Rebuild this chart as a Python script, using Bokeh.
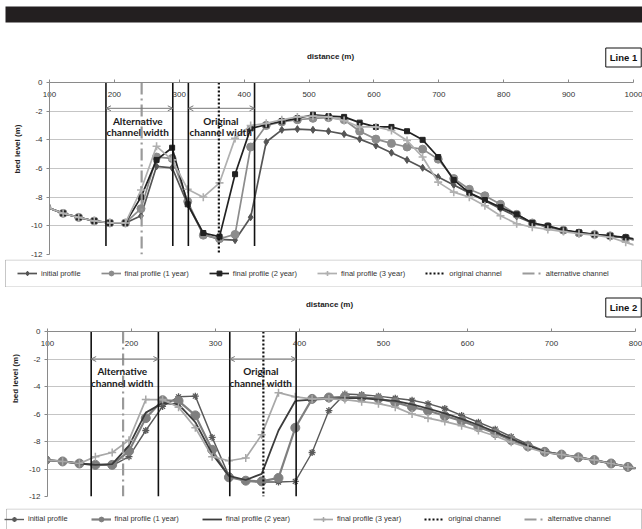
from math import pi
from bokeh.plotting import figure
from bokeh.layouts import column, row
from bokeh.models import (Range1d, LinearAxis, FixedTicker, Legend, LegendItem,
                          Label, Arrow, OpenHead, BoxAnnotation)
from bokeh.embed import file_html
from bokeh.resources import INLINE

# ---------------- Line 1 data ----------------
x1 = [96, 121, 145, 169, 193, 217, 241, 265, 289, 313, 337, 362, 386, 410, 434, 458,
      482, 506, 530, 554, 578, 603, 627, 651, 675, 699, 723, 747, 771, 795, 820, 844,
      868, 892, 916, 940, 964, 988, 1012]
init1 = [-8.7, -9.13, -9.41, -9.66, -9.8, -9.8, -9.3, -5.85, -5.95, -8.5, -10.6, -10.95,
         -11.0, -9.4, -4.15, -3.3, -3.25, -3.3, -3.4, -3.6, -3.95, -4.4, -4.9, -5.4,
         -5.95, -6.6, -7.15, -7.7, -8.25, -8.8, -9.35, -9.8, -10.1, -10.3, -10.5, -10.6,
         -10.7, -10.85, -11.1]
yr1_1 = [-8.7, -9.13, -9.41, -9.66, -9.8, -9.8, -8.8, -5.2, -5.3, -8.3, -10.65, -10.9,
         -10.6, -4.5, -3.0, -2.75, -2.6, -2.5, -2.45, -2.6, -3.4, -3.95, -4.25, -4.5,
         -4.65, -5.35, -6.7, -7.45, -7.9, -8.5, -9.2, -9.8, -10.05, -10.3, -10.5, -10.6,
         -10.7, -10.85, -11.1]
yr2_1 = [-8.7, -9.13, -9.41, -9.66, -9.8, -9.8, -8.0, -5.4, -4.55, -8.5, -10.5, -10.75,
         -6.4, -3.2, -2.95, -2.7, -2.5, -2.25, -2.35, -2.4, -2.8, -3.1, -3.1, -3.4,
         -4.0, -5.2, -6.8, -7.7, -8.2, -8.7, -9.2, -9.8, -10.0, -10.3, -10.45, -10.6,
         -10.7, -10.8, -11.0]
yr3_1 = [-8.7, -9.13, -9.41, -9.66, -9.8, -9.8, -7.5, -4.45, -5.4, -7.45, -8.0, -7.0,
         -3.9, -3.0, -2.85, -2.6, -2.4, -2.35, -2.4, -2.65, -3.1, -3.1, -3.35, -4.05,
         -5.2, -6.95, -7.65, -8.0, -8.6, -9.3, -9.85, -10.1, -10.25, -10.4, -10.55,
         -10.65, -10.8, -11.15, -11.5]
alt_edges1 = [187, 290]
orig_edges1 = [314, 416]
orig_channel1 = 361
alt_channel1 = 242

# ---------------- Line 2 data ----------------
x2 = [98, 118, 138, 157, 177, 197, 217, 237, 256, 276, 296, 316, 336, 355, 375, 395,
      415, 435, 454, 474, 494, 514, 534, 553, 573, 593, 613, 633, 652, 672, 692, 712,
      732, 751, 771, 791, 811]
init2 = [-9.35, -9.45, -9.6, -9.7, -9.75, -9.1, -7.2, -5.45, -4.75, -4.7, -7.7, -10.5,
         -10.9, -10.95, -10.95, -10.9, -8.8, -5.75, -4.55, -4.6, -4.7, -4.85, -5.0,
         -5.25, -5.6, -6.1, -6.6, -7.1, -7.65, -8.2, -8.7, -8.95, -9.15, -9.35, -9.6,
         -9.85, -10.05]
yr1_2 = [-9.35, -9.45, -9.6, -9.7, -9.7, -8.7, -6.3, -5.0, -5.05, -6.1, -8.6, -10.6,
         -10.85, -10.9, -10.65, -7.0, -4.9, -4.8, -4.75, -4.78, -4.88, -5.15, -5.5,
         -5.75, -6.15, -6.5, -6.95, -7.4, -7.9, -8.35, -8.75, -8.95, -9.15, -9.35, -9.6,
         -9.85, -10.05]
yr2_2 = [-9.35, -9.45, -9.6, -9.7, -9.65, -8.3, -5.9, -5.2, -5.3, -6.6, -8.9, -10.5,
         -10.8, -10.35, -7.2, -5.05, -4.95, -4.9, -4.85, -4.85, -4.95, -5.05, -5.3,
         -5.6, -5.95, -6.35, -6.8, -7.3, -7.8, -8.3, -8.75, -8.95, -9.15, -9.35, -9.6,
         -9.85, -10.05]
yr3_2 = [-9.35, -9.45, -9.6, -9.1, -8.8, -7.9, -4.95, -4.95, -5.5, -7.0, -9.1, -9.4,
         -9.2, -7.5, -4.45, -4.75, -4.9, -4.9, -4.95, -5.1, -5.25, -5.5, -6.0, -6.3,
         -6.55, -6.85, -7.2, -7.6, -8.05, -8.45, -8.8, -8.95, -9.15, -9.35, -9.6, -9.85,
         -10.05]
alt_edges2 = [152, 232]
orig_edges2 = [317, 396]
orig_channel2 = 357
alt_channel2 = 190

x_ticks1 = [100, 200, 300, 400, 500, 600, 700, 800, 900, 1000]
x_ticks2 = [100, 200, 300, 400, 500, 600, 700, 800]
y_ticks = [0, -2, -4, -6, -8, -10, -12]
series_names = ["initial profile", "final profile (1 year)", "final profile (2 year)",
                "final profile (3 year)"]
channel_names = ["original channel", "alternative channel"]

FONT = "Liberation Sans"
LBL = "Lato"
NAN = float("nan")

ORIG_STYLE = dict(line_color="#111111", line_width=2.2, line_dash="2 2")
ALT_STYLE = dict(line_color="#9a9a9a", line_width=2.2, line_dash="12 4 2 4")


def deco_fig(w, h, top=0):
    f = figure(width=w, height=h, x_range=Range1d(0, w), y_range=Range1d(h - top, 0),
               x_axis_location=None, y_axis_location=None, toolbar_location=None,
               output_backend="svg", min_border=0, min_border_top=top)
    f.outline_line_color = None
    f.grid.visible = False
    f.background_fill_color = "white"
    f.border_fill_color = "white"
    return f


def title_fig(h, title_xy, box_text, box_xy):
    f = deco_fig(642, h)
    f.add_layout(Label(x=title_xy[0], y=title_xy[1], text="distance (m)",
                       text_align="center", text_baseline="middle", text_font=FONT,
                       text_font_style="bold", text_font_size="8px",
                       text_color="#222222"))
    f.add_layout(Label(x=box_xy[0], y=box_xy[1], text=box_text,
                       text_align="center", text_baseline="middle", text_font=FONT,
                       text_font_style="bold", text_font_size="9.5px",
                       text_color="#111111", border_line_color="#111111",
                       border_line_width=1, background_fill_color="white",
                       padding=4))
    return f


def ylabel_fig(w, h, xy):
    f = deco_fig(w, h)
    f.add_layout(Label(x=xy[0], y=xy[1], text="bed level (m)", angle=pi / 2,
                       text_align="center", text_baseline="middle", text_font=FONT,
                       text_font_style="bold", text_font_size="8px",
                       text_color="#222222"))
    return f


def legend_fig(h, top, box, margin, spacing, styles):
    f = deco_fig(642, h, top)
    left, btop, bbottom = box
    f.add_layout(BoxAnnotation(left=left, right=641, top=btop, bottom=bbottom,
                               fill_color="white", fill_alpha=1,
                               line_color="#444444", line_width=1))
    items = []
    for name, st in zip(series_names, styles):
        rs = [f.line(x=[NAN], y=[NAN], line_color=st["color"],
                     line_width=st.get("lw", 1.7))]
        if st.get("marker"):
            rs.append(f.scatter(x=[NAN], y=[NAN], marker=st["marker"],
                                fill_color=st["color"], line_color=st["color"],
                                line_width=st.get("mlw", 1)))
        items.append(LegendItem(label=name, renderers=rs))
    items.append(LegendItem(label=channel_names[0],
                            renderers=[f.line(x=[NAN], y=[NAN], **ORIG_STYLE)]))
    items.append(LegendItem(label=channel_names[1],
                            renderers=[f.line(x=[NAN], y=[NAN], **ALT_STYLE)]))
    leg = Legend(items=items, location="center_left", orientation="horizontal",
                 border_line_color=None, background_fill_alpha=0, padding=8,
                 margin=margin, spacing=spacing, glyph_width=20, glyph_height=12,
                 label_height=12, label_standoff=4, label_text_font=FONT,
                 label_text_font_size="7.5px", label_text_color="#333333")
    f.add_layout(leg)
    return f


def make_chart(width, height, borders, xmax, xticks, x, ys, styles, alt_edges,
               orig_edges, orig_ch, alt_ch, edge_bottom, arrow_y, alt_txt, orig_txt):
    left, right, top, bottom = borders
    p = figure(width=width, height=height, x_range=Range1d(100, xmax),
               y_range=Range1d(-12, 0), x_axis_location=None,
               toolbar_location=None, output_backend="svg",
               min_border_left=left, min_border_right=right,
               min_border_top=top, min_border_bottom=bottom)
    p.outline_line_color = None
    p.background_fill_color = "white"
    p.border_fill_color = "white"
    p.xgrid.visible = False
    p.ygrid.ticker = FixedTicker(ticks=y_ticks)
    p.ygrid.grid_line_color = "#8a8a8a"
    p.ygrid.grid_line_dash = "1 1"

    ya = p.yaxis[0]
    ya.ticker = FixedTicker(ticks=y_ticks)
    ya.major_label_overrides = {t: str(t) for t in y_ticks}
    ya.major_label_text_font = FONT
    ya.major_label_text_font_size = "8px"
    ya.major_label_text_color = "#333333"
    ya.axis_line_color = "#8a8a8a"
    ya.major_tick_line_color = "#8a8a8a"
    ya.major_tick_out = 3
    ya.major_tick_in = 0
    ya.minor_tick_line_color = None
    ya.major_label_standoff = 4

    xa = LinearAxis(ticker=FixedTicker(ticks=xticks), major_label_standoff=-17,
                    major_tick_out=3, major_tick_in=0, axis_line_color="#8a8a8a",
                    major_tick_line_color="#8a8a8a", minor_tick_line_color=None,
                    major_label_text_font=FONT, major_label_text_font_size="8px",
                    major_label_text_color="#333333")
    p.add_layout(xa, "above")

    for y, st in zip(ys, styles):
        p.line(x, y, line_color=st["color"], line_width=st.get("lw", 1.7))
        if st.get("marker"):
            p.scatter(x, y, marker=st["marker"], size=st["size"],
                      fill_color=st["color"], line_color=st["color"],
                      line_width=st.get("mlw", 1))

    edges = alt_edges + orig_edges
    p.segment(x0=edges, y0=[0] * len(edges), x1=edges, y1=[edge_bottom] * len(edges),
              line_color="#111111", line_width=1.6)
    p.line([orig_ch, orig_ch], [0, -12], **ORIG_STYLE)
    p.line([alt_ch, alt_ch], [0, -12], **ALT_STYLE)

    for a, b in (alt_edges, orig_edges):
        p.add_layout(Arrow(x_start=a, y_start=arrow_y, x_end=b, y_end=arrow_y,
                           line_color="#777777", line_width=1,
                           start=OpenHead(size=5, line_color="#777777", line_width=1),
                           end=OpenHead(size=5, line_color="#777777", line_width=1)))

    for (tx, ty1, ty2), t1 in ((alt_txt, "Alternative"), (orig_txt, "Original")):
        for ty, t in ((ty1, t1), (ty2, "channel width")):
            p.add_layout(Label(x=tx, y=ty, text=t, text_align="center",
                               text_baseline="middle", text_font=LBL,
                               text_font_style="bold", text_font_size="10px",
                               text_color="#1a1a1a"))
    return p


styles1 = [
    dict(color="#555555", marker="diamond", size=7),
    dict(color="#8c8c8c", marker="circle", size=8),
    dict(color="#222222", marker="square", size=5),
    dict(color="#b0b0b0", marker="cross", size=8, mlw=1.6),
]
styles2 = [
    dict(color="#5a5a5a", marker="asterisk", size=7, mlw=1.3, lw=1.4),
    dict(color="#7f7f7f", marker="circle", size=9, lw=2.2),
    dict(color="#3c3c3c", lw=1.8),
    dict(color="#a8a8a8", marker="cross", size=8, mlw=1.5),
]

# page 0-24
header = deco_fig(642, 24)
header.add_layout(BoxAnnotation(left=5, right=642, top=6, bottom=22,
                                fill_color="#231f20", fill_alpha=1, line_color=None))

# chart 1: title band 24-78, plot 78-259, legend 259-287
t1 = title_fig(54, (330, 32), "Line 1", (623, 33))
y1 = ylabel_fig(24, 181, (17, 70))
p1 = make_chart(618, 181, (25, 9, 4, 5), 1000, x_ticks1, x1,
                [init1, yr1_1, yr2_1, yr3_1], styles1, alt_edges1, orig_edges1,
                orig_channel1, alt_channel1, -11.4, -1.8,
                (236, -2.67, -3.48), (364, -2.67, -3.48))
l1 = legend_fig(28, 0, (5, 0.5, 27.5), 17, 20, styles1)

# chart 2: title band 287-327, plot 327-502, legend 502-529
t2 = title_fig(40, (329, 17), "Line 2", (623, 20))
y2 = ylabel_fig(24, 175, (15, 50))
p2 = make_chart(618, 175, (23, 7, 4, 6), 800, x_ticks2, x2,
                [init2, yr1_2, yr2_2, yr3_2], styles2, alt_edges2, orig_edges2,
                orig_channel2, alt_channel2, -12, -2.0,
                (189, -2.9, -3.78), (354, -2.9, -3.78))
l2 = legend_fig(27, 6, (6, 0.5, 40), 4, 23, styles2)

layout = column(header, t1, row(y1, p1, spacing=0), l1,
                t2, row(y2, p2, spacing=0), l2, spacing=0)
open("out.html", "w").write(file_html(layout, INLINE))
